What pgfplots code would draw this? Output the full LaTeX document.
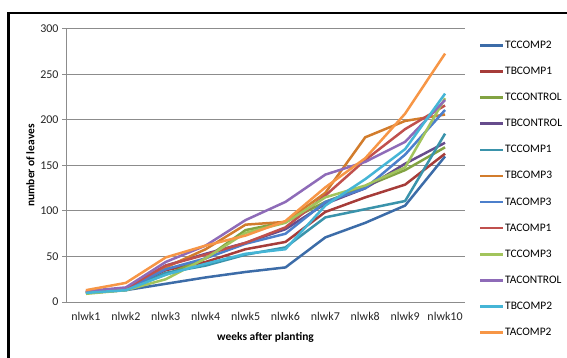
\documentclass[border=0pt]{standalone}
\usepackage{fontspec}
\setmainfont{Carlito}
\usepackage{pgfplots}
\pgfplotsset{compat=1.18}
\definecolor{cA}{HTML}{3C6CA8}
\definecolor{cB}{HTML}{A63C39}
\definecolor{cC}{HTML}{82A342}
\definecolor{cD}{HTML}{664C8C}
\definecolor{cE}{HTML}{3A93AB}
\definecolor{cF}{HTML}{D27C2C}
\definecolor{cG}{HTML}{4C7FCB}
\definecolor{cH}{HTML}{C0504D}
\definecolor{cI}{HTML}{A2C45C}
\definecolor{cJ}{HTML}{8E6BB8}
\definecolor{cK}{HTML}{45B5D6}
\definecolor{cL}{HTML}{F79646}
\definecolor{gridc}{HTML}{8C8C8C}
\begin{document}
\begin{tikzpicture}
\useasboundingbox (0bp,0bp) rectangle (567bp,358bp);
\draw[line width=2.5bp,black] (8.5bp,0bp) -- (8.5bp,345bp) -- (568bp,345bp);
\begin{axis}[
  at={(66bp,56bp)}, anchor=origin,
  scale only axis, width=399bp, height=273bp,
  xmin=0.5, xmax=10.5, ymin=0, ymax=300,
  xtick={1,...,10},
  xticklabels={nlwk1,nlwk2,nlwk3,nlwk4,nlwk5,nlwk6,nlwk7,nlwk8,nlwk9,nlwk10},
  ytick={0,50,...,300},
  ymajorgrids, grid style={gridc, line width=1bp},
  axis x line*=bottom, axis y line*=left,
  axis line style={gridc, line width=1bp, -},
  major x tick style={draw=none},
  major y tick style={gridc, line width=1bp},
  tick align=outside, major tick length=4bp,
  tick label style={font=\fontsize{12}{14}\selectfont, text=black!85},
  /pgf/number format/assume math mode=true,
  xticklabel style={yshift=-3bp},
  xlabel={\textbf{weeks after planting}},
  ylabel={\textbf{number of leaves}},
  label style={font=\fontsize{11.5}{13}\selectfont},
  xlabel style={yshift=-5bp},
  ylabel style={yshift=-1bp},
  every axis plot/.append style={line width=2.5bp, mark=none},
  legend cell align=left,
  legend style={draw=none, fill=none, at={(1.035,0.414)}, anchor=west,
    font=\fontsize{11.5}{13}\selectfont, row sep=16.2bp, inner sep=0pt,
    nodes={inner sep=0.5bp}},
  legend image code/.code={\draw[#1, line width=2.5bp] (0bp,0bp) -- (23bp,0bp);},
]
\addplot[cA] coordinates {(1,10)(2,13)(3,20)(4,27)(5,33)(6,38)(7,71)(8,87)(9,106)(10,160)};
\addplot[cB] coordinates {(1,11)(2,14)(3,35)(4,44)(5,58)(6,66)(7,99)(8,115)(9,129)(10,163)};
\addplot[cC] coordinates {(1,10)(2,14)(3,30)(4,48)(5,79)(6,88)(7,110)(8,127)(9,145)(10,170)};
\addplot[cD] coordinates {(1,11)(2,15)(3,40)(4,53)(5,65)(6,80)(7,108)(8,125)(9,152)(10,175)};
\addplot[cE] coordinates {(1,10)(2,13)(3,32)(4,40)(5,52)(6,60)(7,93)(8,102)(9,111)(10,185)};
\addplot[cF] coordinates {(1,11)(2,15)(3,38)(4,58)(5,85)(6,88)(7,120)(8,181)(9,199)(10,206)};
\addplot[cG] coordinates {(1,11)(2,14)(3,36)(4,48)(5,64)(6,75)(7,110)(8,125)(9,162)(10,211)};
\addplot[cH] coordinates {(1,11)(2,15)(3,40)(4,52)(5,65)(6,82)(7,117)(8,156)(9,190)(10,216)};
\addplot[cI] coordinates {(1,9)(2,13)(3,25)(4,48)(5,76)(6,87)(7,115)(8,128)(9,148)(10,224)};
\addplot[cJ] coordinates {(1,12)(2,16)(3,44)(4,62)(5,90)(6,110)(7,140)(8,154)(9,176)(10,222)};
\addplot[cK] coordinates {(1,10)(2,13)(3,30)(4,42)(5,53)(6,58)(7,106)(8,135)(9,168)(10,229)};
\addplot[cL] coordinates {(1,13)(2,21)(3,49)(4,62)(5,73)(6,89)(7,126)(8,158)(9,207)(10,273)};
\legend{TCCOMP2,TBCOMP1,TCCONTROL,TBCONTROL,TCCOMP1,TBCOMP3,TACOMP3,TACOMP1,TCCOMP3,TACONTROL,TBCOMP2,TACOMP2}
\end{axis}
\end{tikzpicture}
\end{document}
